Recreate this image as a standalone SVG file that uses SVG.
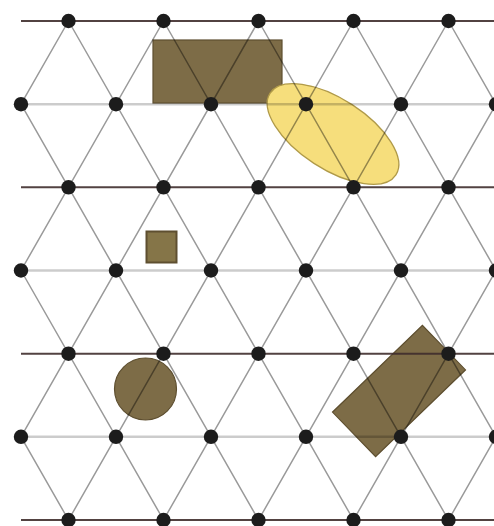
<svg xmlns="http://www.w3.org/2000/svg" xmlns:xlink="http://www.w3.org/1999/xlink" width="494" height="526" viewBox="0 0 494 526">
<style>
.shape{fill:#7d6c47;stroke:#5e4f30;stroke-width:1.2}
.ell{fill:#f6de7c;stroke:#b09a48;stroke-width:1.3}
.diag{fill:none;stroke:#000000;stroke-opacity:0.4;stroke-width:1.5}
.hdark{stroke:#3f2e2c;stroke-opacity:0.9;stroke-width:2}
.hlight{stroke:#000000;stroke-opacity:0.2;stroke-width:2.5}
.dot{fill:#1c1c1c}
</style>
<defs>
<circle id="d" r="7.2" class="dot"/>
</defs>
<rect width="494" height="526" fill="#ffffff"/>
<g id="shapes">
<g id="rect-top"><rect class="shape" x="153" y="40" width="129" height="63"/></g>
<g id="ellipse"><ellipse class="ell" cx="333" cy="134" rx="75" ry="35" transform="rotate(33 333 134)"/></g>
<g id="square"><rect x="146.5" y="231.5" width="30" height="31" fill="#857548" stroke="#5e4f30" stroke-width="2"/></g>
<g id="circle"><circle class="shape" cx="145.5" cy="389" r="31"/></g>
<g id="rect-rot"><rect class="shape" x="336.5" y="360" width="125" height="62" transform="rotate(-44 399 391)"/></g>
</g>
<g id="connectors">
<g id="horizontal">
<line class="hdark" x1="21" y1="21" x2="494" y2="21"/>
<line class="hlight" x1="21" y1="104.2" x2="494" y2="104.2"/>
<line class="hdark" x1="21" y1="187.3" x2="494" y2="187.3"/>
<line class="hlight" x1="21" y1="270.5" x2="494" y2="270.5"/>
<line class="hdark" x1="21" y1="353.7" x2="494" y2="353.7"/>
<line class="hlight" x1="21" y1="436.8" x2="494" y2="436.8"/>
<line class="hdark" x1="21" y1="520" x2="494" y2="520"/>
</g>
<path class="diag" d="M448.5,21 L496,104.2 M353.5,21 L496,270.5 M258.5,21 L496,436.8 M163.5,21 L448.5,520 M68.5,21 L353.5,520 M21,104.2 L258.5,520 M21,270.5 L163.5,520 M21,436.8 L68.5,520 M68.5,21 L21,104.2 M163.5,21 L21,270.5 M258.5,21 L21,436.8 M353.5,21 L68.5,520 M448.5,21 L163.5,520 M496,104.2 L258.5,520 M496,270.5 L353.5,520 M496,436.8 L448.5,520"/>
</g>
<g id="nodes">
<g id="row0"><use xlink:href="#d" x="68.5" y="21"/><use xlink:href="#d" x="163.5" y="21"/><use xlink:href="#d" x="258.5" y="21"/><use xlink:href="#d" x="353.5" y="21"/><use xlink:href="#d" x="448.5" y="21"/></g>
<g id="row1"><use xlink:href="#d" x="21" y="104.2"/><use xlink:href="#d" x="116" y="104.2"/><use xlink:href="#d" x="211" y="104.2"/><use xlink:href="#d" x="306" y="104.2"/><use xlink:href="#d" x="401" y="104.2"/><use xlink:href="#d" x="496" y="104.2"/></g>
<g id="row2"><use xlink:href="#d" x="68.5" y="187.3"/><use xlink:href="#d" x="163.5" y="187.3"/><use xlink:href="#d" x="258.5" y="187.3"/><use xlink:href="#d" x="353.5" y="187.3"/><use xlink:href="#d" x="448.5" y="187.3"/></g>
<g id="row3"><use xlink:href="#d" x="21" y="270.5"/><use xlink:href="#d" x="116" y="270.5"/><use xlink:href="#d" x="211" y="270.5"/><use xlink:href="#d" x="306" y="270.5"/><use xlink:href="#d" x="401" y="270.5"/><use xlink:href="#d" x="496" y="270.5"/></g>
<g id="row4"><use xlink:href="#d" x="68.5" y="353.7"/><use xlink:href="#d" x="163.5" y="353.7"/><use xlink:href="#d" x="258.5" y="353.7"/><use xlink:href="#d" x="353.5" y="353.7"/><use xlink:href="#d" x="448.5" y="353.7"/></g>
<g id="row5"><use xlink:href="#d" x="21" y="436.8"/><use xlink:href="#d" x="116" y="436.8"/><use xlink:href="#d" x="211" y="436.8"/><use xlink:href="#d" x="306" y="436.8"/><use xlink:href="#d" x="401" y="436.8"/><use xlink:href="#d" x="496" y="436.8"/></g>
<g id="row6"><use xlink:href="#d" x="68.5" y="520"/><use xlink:href="#d" x="163.5" y="520"/><use xlink:href="#d" x="258.5" y="520"/><use xlink:href="#d" x="353.5" y="520"/><use xlink:href="#d" x="448.5" y="520"/></g>
</g>
</svg>
